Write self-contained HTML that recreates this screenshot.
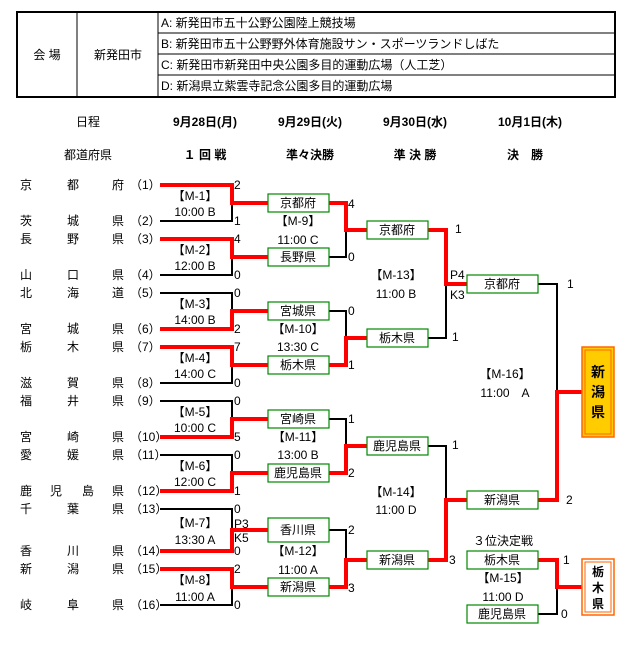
<!DOCTYPE html>
<html><head><meta charset="utf-8"><style>
body{margin:0;background:#fff;}
svg text{font-family:"Liberation Sans","Noto Sans CJK JP",sans-serif;font-size:12px;fill:#000;}
.b{font-weight:bold;}
.s{fill:#3a2a7a;}
</style></head><body>
<svg width="631" height="646" viewBox="0 0 631 646" xmlns="http://www.w3.org/2000/svg">
<rect x="17" y="12" width="598" height="85" fill="none" stroke="#000" stroke-width="2"/>
<line x1="77" y1="12" x2="77" y2="97" stroke="#000"/>
<line x1="158" y1="12" x2="158" y2="97" stroke="#000"/>
<line x1="158" y1="33" x2="615" y2="33" stroke="#000"/>
<line x1="158" y1="54" x2="615" y2="54" stroke="#000"/>
<line x1="158" y1="75" x2="615" y2="75" stroke="#000"/>
<text x="47" y="59" text-anchor="middle">会 場</text>
<text x="118" y="59" text-anchor="middle">新発田市</text>
<text x="161" y="27">A: 新発田市五十公野公園陸上競技場</text>
<text x="161" y="48">B:  新発田市五十公野野外体育施設サン・スポーツランドしばた</text>
<text x="161" y="69">C: 新発田市新発田中央公園多目的運動広場（人工芝）</text>
<text x="161" y="90">D: 新潟県立紫雲寺記念公園多目的運動広場</text>
<text x="88" y="126" text-anchor="middle">日程</text>
<text x="205" y="126" text-anchor="middle" class="b">9月28日(月)</text>
<text x="310" y="126" text-anchor="middle" class="b">9月29日(火)</text>
<text x="415" y="126" text-anchor="middle" class="b">9月30日(水)</text>
<text x="530" y="126" text-anchor="middle" class="b">10月1日(木)</text>
<text x="88" y="159" text-anchor="middle">都道府県</text>
<text x="205" y="159" text-anchor="middle" class="b">１ 回 戦</text>
<text x="310" y="159" text-anchor="middle" class="b">準々決勝</text>
<text x="415" y="159" text-anchor="middle" class="b">準 決 勝</text>
<text x="525" y="159" text-anchor="middle" class="b">決　勝</text>
<g>
<text x="20" y="189">京</text><text x="67" y="189">都</text><text x="112" y="189">府</text><text x="130" y="189">（1）</text>
<text x="20" y="225">茨</text><text x="67" y="225">城</text><text x="112" y="225">県</text><text x="130" y="225">（2）</text>
<text x="20" y="243">長</text><text x="67" y="243">野</text><text x="112" y="243">県</text><text x="130" y="243">（3）</text>
<text x="20" y="279">山</text><text x="67" y="279">口</text><text x="112" y="279">県</text><text x="130" y="279">（4）</text>
<text x="20" y="297">北</text><text x="67" y="297">海</text><text x="112" y="297">道</text><text x="130" y="297">（5）</text>
<text x="20" y="333">宮</text><text x="67" y="333">城</text><text x="112" y="333">県</text><text x="130" y="333">（6）</text>
<text x="20" y="351">栃</text><text x="67" y="351">木</text><text x="112" y="351">県</text><text x="130" y="351">（7）</text>
<text x="20" y="387">滋</text><text x="67" y="387">賀</text><text x="112" y="387">県</text><text x="130" y="387">（8）</text>
<text x="20" y="405">福</text><text x="67" y="405">井</text><text x="112" y="405">県</text><text x="130" y="405">（9）</text>
<text x="20" y="441">宮</text><text x="67" y="441">崎</text><text x="112" y="441">県</text><text x="130" y="441">（10）</text>
<text x="20" y="459">愛</text><text x="67" y="459">媛</text><text x="112" y="459">県</text><text x="130" y="459">（11）</text>
<text x="20" y="495">鹿</text><text x="50" y="495">児</text><text x="82" y="495">島</text><text x="112" y="495">県</text><text x="130" y="495">（12）</text>
<text x="20" y="513">千</text><text x="67" y="513">葉</text><text x="112" y="513">県</text><text x="130" y="513">（13）</text>
<text x="20" y="555">香</text><text x="67" y="555">川</text><text x="112" y="555">県</text><text x="130" y="555">（14）</text>
<text x="20" y="573">新</text><text x="67" y="573">潟</text><text x="112" y="573">県</text><text x="130" y="573">（15）</text>
<text x="20" y="609">岐</text><text x="67" y="609">阜</text><text x="112" y="609">県</text><text x="130" y="609">（16）</text>
</g>
<g fill="none" stroke="#000" stroke-width="2">
<path d="M160 185H232V221H160"/><path d="M160 239H232V275H160"/>
<path d="M160 293H232V329H160"/><path d="M160 347H232V383H160"/>
<path d="M160 401H232V437H160"/><path d="M160 455H232V491H160"/>
<path d="M160 509H232V551H160"/><path d="M160 569H232V605H160"/>
<path d="M329 203H346V257H329"/><path d="M329 311H346V365H329"/>
<path d="M329 419H346V473H329"/><path d="M329 530H346V587H329"/>
<path d="M428 230H446V338H428"/><path d="M428 446H446V560H428"/>
<path d="M538 284H557V500H538"/>
<path d="M538 560H557V614H538"/>
</g>
<g fill="none" stroke="#f00" stroke-width="4">
<path d="M160 185H232V203H268"/>
<path d="M160 239H232V257H268"/>
<path d="M160 329H232V311H268"/>
<path d="M160 347H232V365H268"/>
<path d="M160 437H232V419H268"/>
<path d="M160 491H232V473H268"/>
<path d="M160 551H232V530H268"/>
<path d="M160 569H232V587H268"/>
<path d="M329 203H346V230H367"/>
<path d="M329 365H346V338H367"/>
<path d="M329 473H346V446H367"/>
<path d="M329 587H346V560H367"/>
<path d="M428 230H446V284H467"/>
<path d="M428 560H446V500H467"/>
<path d="M538 500H557V392H582"/>
<path d="M538 560H557V587H582"/>
</g>
<g fill="#fff" stroke="#080" stroke-width="1.2">
<rect x="268" y="194" width="61" height="18"/><rect x="268" y="248" width="61" height="18"/>
<rect x="268" y="302" width="61" height="18"/><rect x="268" y="356" width="61" height="18"/>
<rect x="268" y="410" width="61" height="18"/><rect x="268" y="464" width="61" height="18"/>
<rect x="268" y="518" width="61" height="24"/><rect x="268" y="578" width="61" height="18"/>
<rect x="367" y="221" width="61" height="18"/><rect x="367" y="329" width="61" height="18"/>
<rect x="367" y="437" width="61" height="18"/><rect x="367" y="551" width="61" height="18"/>
<rect x="467" y="275" width="71" height="18"/><rect x="467" y="491" width="71" height="18"/>
<rect x="467" y="551" width="71" height="18"/><rect x="467" y="605" width="71" height="18"/>
</g>
<g text-anchor="middle">
<text x="298" y="207">京都府</text><text x="298" y="261">長野県</text>
<text x="298" y="315">宮城県</text><text x="298" y="369">栃木県</text>
<text x="298" y="423">宮崎県</text><text x="298" y="477">鹿児島県</text>
<text x="298" y="534">香川県</text><text x="298" y="591">新潟県</text>
<text x="397" y="234">京都府</text><text x="397" y="342">栃木県</text>
<text x="397" y="450">鹿児島県</text><text x="397" y="564">新潟県</text>
<text x="502" y="288">京都府</text><text x="502" y="504">新潟県</text>
<text x="502" y="564">栃木県</text><text x="502" y="618">鹿児島県</text>
<text x="195" y="200">【M-1】</text><text x="195" y="216">10:00 B</text>
<text x="195" y="254">【M-2】</text><text x="195" y="270">12:00 B</text>
<text x="195" y="308">【M-3】</text><text x="195" y="324">14:00 B</text>
<text x="195" y="362">【M-4】</text><text x="195" y="378">14:00 C</text>
<text x="195" y="416">【M-5】</text><text x="195" y="432">10:00 C</text>
<text x="195" y="470">【M-6】</text><text x="195" y="486">12:00 C</text>
<text x="195" y="527">【M-7】</text><text x="195" y="544">13:30 A</text>
<text x="195" y="584">【M-8】</text><text x="195" y="601">11:00 A</text>
<text x="298" y="225">【M-9】</text><text x="298" y="244">11:00 C</text>
<text x="298" y="333">【M-10】</text><text x="298" y="351">13:30 C</text>
<text x="298" y="441">【M-11】</text><text x="298" y="459">13:00 B</text>
<text x="298" y="555">【M-12】</text><text x="298" y="574">11:00 A</text>
<text x="396" y="279">【M-13】</text><text x="396" y="298">11:00 B</text>
<text x="396" y="496">【M-14】</text><text x="396" y="514">11:00 D</text>
<text x="505" y="378">【M-16】</text><text x="505" y="397">11:00　A</text>
<text x="503" y="545">３位決定戦</text>
<text x="503" y="582">【M-15】</text><text x="503" y="601">11:00 D</text>
</g>
<g class="s">
<text x="234" y="189">2</text><text x="234" y="225">1</text>
<text x="234" y="243">4</text><text x="234" y="279">0</text>
<text x="234" y="297">0</text><text x="234" y="333">2</text>
<text x="234" y="351">7</text><text x="234" y="387">0</text>
<text x="234" y="405">0</text><text x="234" y="441">5</text>
<text x="234" y="459">0</text><text x="234" y="495">1</text>
<text x="234" y="513">0</text><text x="234" y="555">0</text>
<text x="234" y="573">2</text><text x="234" y="609">0</text>
<text x="234" y="528">P3</text><text x="234" y="542">K5</text>
<text x="348" y="208">4</text><text x="348" y="261">0</text>
<text x="348" y="315">0</text><text x="348" y="369">1</text>
<text x="348" y="423">1</text><text x="348" y="477">2</text>
<text x="348" y="534">2</text><text x="348" y="592">3</text>
<text x="455" y="233">1</text><text x="452" y="341">1</text>
<text x="452" y="449">1</text><text x="449" y="564">3</text>
<text x="450" y="279">P4</text><text x="450" y="299">K3</text>
<text x="567" y="288">1</text><text x="566" y="504">2</text>
<text x="563" y="564">1</text><text x="561" y="618">0</text>
</g>
<rect x="582" y="347" width="32" height="90" fill="#ffcc00" stroke="#ff6600" stroke-width="1.5"/>
<rect x="585" y="350" width="26" height="84" fill="none" stroke="#ff6600" stroke-width="1"/>
<g text-anchor="middle" class="b">
<text x="598" y="377" style="font-size:14px">新</text><text x="598" y="397" style="font-size:14px">潟</text><text x="598" y="417" style="font-size:14px">県</text>
</g>
<rect x="582" y="559" width="32" height="56" fill="#fff" stroke="#ff6600" stroke-width="1.5"/>
<rect x="585" y="562" width="26" height="50" fill="none" stroke="#ff6600" stroke-width="1"/>
<g text-anchor="middle" class="b">
<text x="598" y="576">栃</text><text x="598" y="592">木</text><text x="598" y="608">県</text>
</g>
</svg>
</body></html>
